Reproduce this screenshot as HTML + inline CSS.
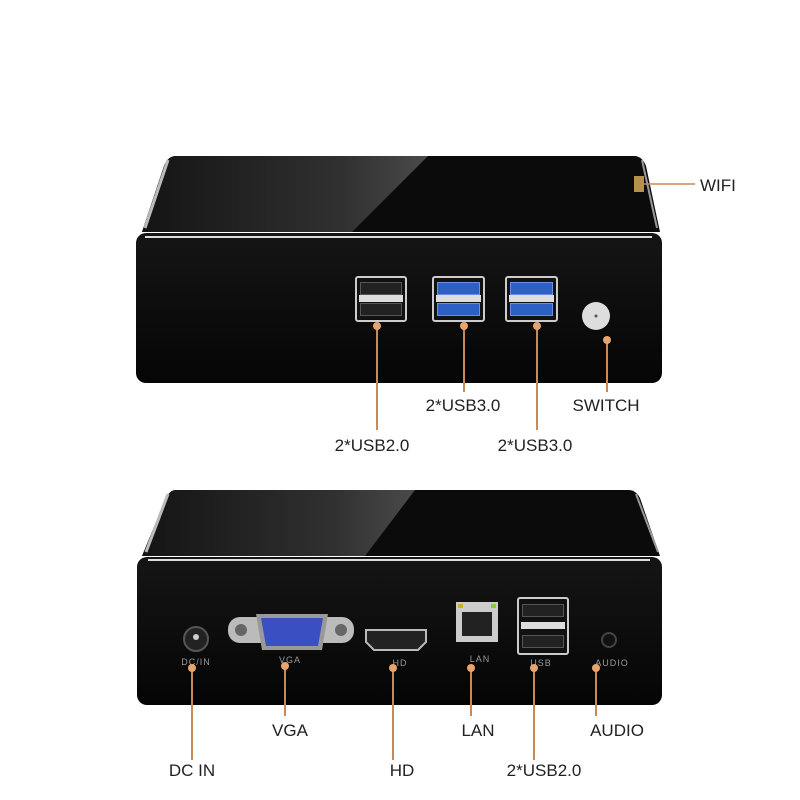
<!DOCTYPE html>
<html><head><meta charset="utf-8"><style>
body{margin:0;width:800px;height:800px;background:#fff;position:relative;overflow:hidden;font-family:"Liberation Sans",sans-serif}
.a{position:absolute}
.lbl{position:absolute;font-size:17px;color:#222;white-space:nowrap;transform:translateX(-50%)}
.ln{position:absolute;width:1.5px;background:#c98a55}
.dot{position:absolute;width:8px;height:8px;border-radius:50%;background:#e7a46c;transform:translate(-50%,-50%)}
.usb{position:absolute;background:#111;border:2px solid #ccc;border-radius:3px;box-sizing:border-box}
.usb i{position:absolute;left:3px;right:3px;height:11px;background:#222;border:1px solid #555}
.usb b{position:absolute;left:2px;right:2px;height:7px;top:50%;margin-top:-4px;background:#ddd}
.usb.b3 i{background:#2d5fc4;border-color:#6a8fe0}
.pl{position:absolute;font-size:9px;color:#999;transform:translateX(-50%);letter-spacing:1px}
</style></head><body>
<svg class="a" style="left:0;top:0" width="800" height="800">
<defs>
<linearGradient id="gl" x1="0" y1="0" x2="1" y2="0">
<stop offset="0" stop-color="#141414"/><stop offset="0.7" stop-color="#303030"/><stop offset="1" stop-color="#4a4a4a"/>
</linearGradient>
<linearGradient id="fr" x1="0" y1="0" x2="0" y2="1"><stop offset="0" stop-color="#151515"/><stop offset="1" stop-color="#050505"/></linearGradient>
</defs>
<!-- top box -->
<path d="M176 156 L634 156 Q642 156 646 166 L660 232 L142 232 L164 166 Q168 156 176 156 Z" fill="#0b0b0b"/>
<path d="M176 156 L428 156 L352 232 L142 232 L164 166 Q168 156 176 156 Z" fill="url(#gl)"/>
<path d="M168 160 L145 228" stroke="#bbb" stroke-width="3"/>
<path d="M642 160 L657 228" stroke="#999" stroke-width="2"/>
<rect x="136" y="233" width="526" height="150" rx="10" fill="url(#fr)"/>
<line x1="145" y1="237" x2="652" y2="237" stroke="#ddd" stroke-width="2"/>
<!-- bottom box -->
<path d="M176 490 L628 490 Q636 490 640 498 L660 556 L142 556 L166 498 Q170 490 176 490 Z" fill="#0b0b0b"/>
<path d="M176 490 L415 490 L365 556 L142 556 L166 498 Q170 490 176 490 Z" fill="url(#gl)"/>
<path d="M168 494 L146 552" stroke="#bbb" stroke-width="3"/>
<path d="M636 494 L658 552" stroke="#999" stroke-width="2"/>
<rect x="137" y="557" width="525" height="148" rx="10" fill="url(#fr)"/>
<line x1="148" y1="560" x2="650" y2="560" stroke="#ddd" stroke-width="2"/>
<!-- wifi antenna -->
<rect x="634" y="176" width="10" height="16" fill="#b8904a"/>
<line x1="644" y1="184" x2="695" y2="184" stroke="#c98a55" stroke-width="1.5"/>
<!-- switch -->
<circle cx="596" cy="316" r="14" fill="#ddd"/><circle cx="596" cy="316" r="1.5" fill="#555"/>
<!-- DC -->
<circle cx="196" cy="639" r="12" fill="#222" stroke="#555" stroke-width="2"/><circle cx="196" cy="637" r="3" fill="#ccc"/>
<!-- VGA -->
<rect x="228" y="617" width="126" height="26" rx="12" fill="#bbb"/>
<circle cx="241" cy="630" r="6" fill="#666"/><circle cx="341" cy="630" r="6" fill="#666"/>
<path d="M256 614 L328 614 L322 650 L262 650 Z" fill="#999"/>
<path d="M261 618 L323 618 L318 646 L266 646 Z" fill="#3a4fc2"/>
<!-- HDMI -->
<path d="M366 630 L426 630 L426 642 L418 650 L374 650 L366 642 Z" fill="#222" stroke="#bbb" stroke-width="2"/>
<!-- LAN -->
<rect x="456" y="602" width="42" height="40" fill="#ccc"/><rect x="462" y="612" width="30" height="24" fill="#222"/>
<rect x="458" y="604" width="5" height="4" fill="#c9b030"/><rect x="491" y="604" width="5" height="4" fill="#8c3"/>
<!-- audio -->
<circle cx="609" cy="640" r="7" fill="#111" stroke="#444" stroke-width="2"/>
</svg>
<div class="usb" style="left:355px;top:276px;width:52px;height:46px"><i style="top:4px"></i><b></b><i style="bottom:4px"></i></div>
<div class="usb b3" style="left:432px;top:276px;width:53px;height:46px"><i style="top:4px"></i><b></b><i style="bottom:4px"></i></div>
<div class="usb b3" style="left:505px;top:276px;width:53px;height:46px"><i style="top:4px"></i><b></b><i style="bottom:4px"></i></div>
<div class="usb" style="left:517px;top:597px;width:52px;height:58px"><i style="top:5px"></i><b></b><i style="bottom:5px"></i></div>
<div class="pl" style="left:196px;top:657px">DC/IN</div>
<div class="pl" style="left:290px;top:655px">VGA</div>
<div class="pl" style="left:400px;top:658px">HD</div>
<div class="pl" style="left:480px;top:654px">LAN</div>
<div class="pl" style="left:541px;top:658px">USB</div>
<div class="pl" style="left:612px;top:658px">AUDIO</div>
<div class="ln" style="left:376px;top:326px;height:104px"></div><div class="dot" style="left:377px;top:326px"></div>
<div class="ln" style="left:463px;top:326px;height:66px"></div><div class="dot" style="left:464px;top:326px"></div>
<div class="ln" style="left:536px;top:326px;height:104px"></div><div class="dot" style="left:537px;top:326px"></div>
<div class="ln" style="left:606px;top:340px;height:52px"></div><div class="dot" style="left:607px;top:340px"></div>
<div class="lbl" style="left:463px;top:396px">2*USB3.0</div>
<div class="lbl" style="left:606px;top:396px">SWITCH</div>
<div class="lbl" style="left:372px;top:436px">2*USB2.0</div>
<div class="lbl" style="left:535px;top:436px">2*USB3.0</div>
<div class="a" style="left:700px;top:176px;font-size:17px;color:#222">WIFI</div>
<div class="ln" style="left:191px;top:668px;height:92px"></div><div class="dot" style="left:192px;top:668px"></div>
<div class="ln" style="left:284px;top:666px;height:50px"></div><div class="dot" style="left:285px;top:666px"></div>
<div class="ln" style="left:392px;top:668px;height:92px"></div><div class="dot" style="left:393px;top:668px"></div>
<div class="ln" style="left:470px;top:668px;height:48px"></div><div class="dot" style="left:471px;top:668px"></div>
<div class="ln" style="left:533px;top:668px;height:92px"></div><div class="dot" style="left:534px;top:668px"></div>
<div class="ln" style="left:595px;top:668px;height:48px"></div><div class="dot" style="left:596px;top:668px"></div>
<div class="lbl" style="left:290px;top:721px">VGA</div>
<div class="lbl" style="left:478px;top:721px">LAN</div>
<div class="lbl" style="left:617px;top:721px">AUDIO</div>
<div class="lbl" style="left:192px;top:761px">DC IN</div>
<div class="lbl" style="left:402px;top:761px">HD</div>
<div class="lbl" style="left:544px;top:761px">2*USB2.0</div>
</body></html>
